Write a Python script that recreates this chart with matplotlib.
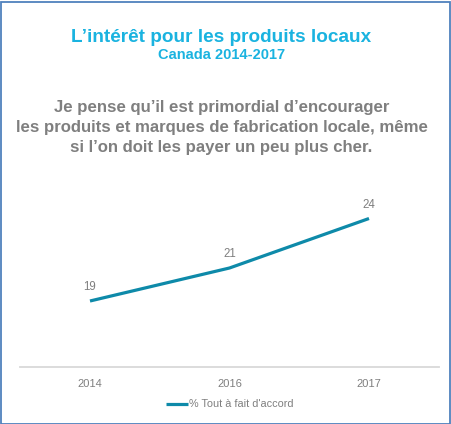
import matplotlib
matplotlib.use('Agg')
import matplotlib.pyplot as plt
import matplotlib.patches as mpatches

# Donnees
years = ['2014', '2016', '2017']
values = [19, 21, 24]
serie_label = "% Tout à fait d'accord"

title = "L\u2019intérêt pour les produits locaux"
subtitle = "Canada 2014-2017"
question = ["Je pense qu\u2019il est primordial d\u2019encourager",
            "les produits et marques de fabrication locale, même",
            "si l\u2019on doit les payer un peu plus cher."]

W, H = 451, 424
fig = plt.figure(figsize=(W / 100, H / 100), dpi=100)
fig.patch.set_facecolor('white')

# cadre bleu
fig.add_artist(mpatches.Rectangle((0.5 / W, 0.5 / H), 449.5 / W, 422 / H,
                                  transform=fig.transFigure, fill=False,
                                  edgecolor='#4f81bd', linewidth=1.3))

main_font = ['Liberation Sans', 'DejaVu Sans']
narrow_font = ['Liberation Sans Narrow', 'Liberation Sans', 'DejaVu Sans']

cx = 221.5 / W
fig.text(cx, 1 - 41.5 / H, title, ha='center', va='baseline', fontsize=13.7,
         fontweight='bold', color='#1ab3e0', family=main_font)
fig.text(cx, 1 - 59.3 / H, subtitle, ha='center', va='baseline', fontsize=10.5,
         fontweight='bold', color='#1ab3e0', family=main_font)
for i, ligne in enumerate(question):
    fig.text(cx, 1 - (112 + 20 * i) / H, ligne, ha='center', va='baseline',
             fontsize=12.1, fontweight='bold', color='#7f7f7f', family=main_font)

ax = fig.add_axes([20.25 / W, (H - 367) / H, 418.5 / W, 181.5 / H])
x = list(range(len(years)))
ax.plot(x, values, color='#0e8aa9', linewidth=2.3, solid_capstyle='butt',
        label=serie_label)
for xi, v in zip(x, values):
    ax.annotate(str(v), (xi, v), xytext=(0, 10), textcoords='offset points',
                ha='center', va='center', fontsize=8.3, color='#7f7f7f',
                family=narrow_font)

ax.set_xlim(-0.5, 2.5)
ax.set_ylim(15, 26)
ax.set_xticks(x)
ax.set_xticklabels(years, fontsize=8, color='#7f7f7f', family=narrow_font)
ax.set_yticks([])
ax.tick_params(axis='x', length=0, pad=8.5)
for s in ['top', 'left', 'right']:
    ax.spines[s].set_visible(False)
ax.spines['bottom'].set_color('#d9d9d9')
ax.spines['bottom'].set_linewidth(1.3)
ax.patch.set_alpha(0)

leg = ax.legend(loc='center', bbox_to_anchor=(0.5, -0.206), frameon=False,
                handlelength=2.0, handletextpad=0.1,
                prop={'family': narrow_font, 'size': 7.8})
for t in leg.get_texts():
    t.set_color('#7f7f7f')

fig.savefig('out.png', dpi=100)
